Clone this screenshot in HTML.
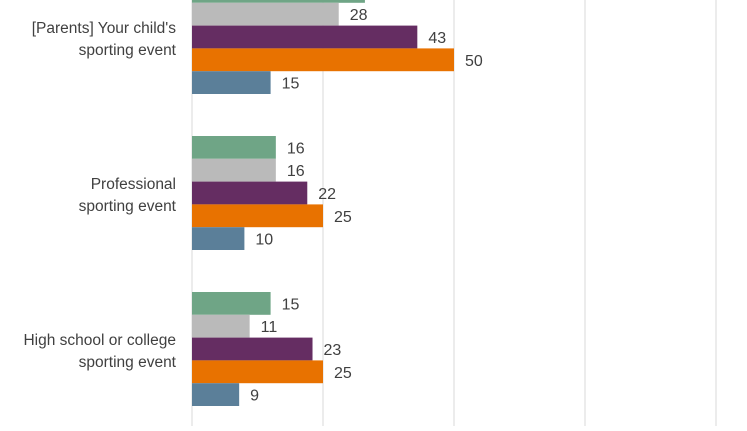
<!DOCTYPE html>
<html><head><meta charset="utf-8"><style>
body{margin:0;background:#fff;width:747px;height:426px;overflow:hidden}
svg text{font-family:"Liberation Sans",sans-serif}
</style></head><body>
<svg id="chart" width="747" height="426" xmlns="http://www.w3.org/2000/svg"></svg>
<script>
const categories = ["[Parents] Your child's|sporting event", "Professional|sporting event", "High school or college|sporting event"];
const seriesNames = ["green-series", "gray-series", "purple-series", "orange-series", "blue-series"];
const seriesColors = ["#6fa586", "#bababa", "#652d62", "#e87200", "#5b7f99"];
const greenValues = [33, 16, 15];
const grayValues = [28, 16, 11];
const purpleValues = [43, 22, 23];
const orangeValues = [50, 25, 25];
const blueValues = [15, 10, 9];
const gridTicks = [0, 25, 50, 75, 100];

const allSeries = [greenValues, grayValues, purpleValues, orangeValues, blueValues];
const svg = document.getElementById('chart');
const NS = 'http://www.w3.org/2000/svg';
const x0 = 192, pxPerUnit = 262 / 50;
const xScale = v => x0 + v * pxPerUnit;
const groupTop0 = -20, groupStep = 156, barH = 22.8;
const yBar = (g, s) => groupTop0 + g * groupStep + s * barH;

gridTicks.forEach(t => {
  const l = document.createElementNS(NS, 'line');
  
  
  l.setAttribute('x1', xScale(t)); l.setAttribute('x2', xScale(t));
  l.setAttribute('y1', 0); l.setAttribute('y2', 426);
  l.setAttribute('stroke', '#d9d9d9'); l.setAttribute('stroke-width', '1');
  svg.appendChild(l);
});

categories.forEach((cat, g) => {
  allSeries.forEach((vals, s) => {
    const y = yBar(g, s);
    const r = document.createElementNS(NS, 'rect');
    
    
    r.setAttribute('x', x0); r.setAttribute('y', y);
    r.setAttribute('width', xScale(vals[g]) - x0); r.setAttribute('height', barH);
    r.setAttribute('fill', seriesColors[s]);
    svg.appendChild(r);
    const t = document.createElementNS(NS, 'text');
    
    
    t.setAttribute('x', xScale(vals[g]) + 11); t.setAttribute('y', y + barH / 2 + 6);
    t.setAttribute('font-size', '16'); t.setAttribute('fill', '#404040');
    t.textContent = vals[g];
    svg.appendChild(t);
  });
  const mid = yBar(g, 2) + barH / 2;
  const lines = cat.split('|');
  lines.forEach((ln, i) => {
    const t = document.createElementNS(NS, 'text');
    
    
    t.setAttribute('x', 176); t.setAttribute('y', mid - 4 + i * 22);
    t.setAttribute('text-anchor', 'end');
    t.setAttribute('font-size', '15.5'); t.setAttribute('fill', '#404040');
    t.textContent = ln;
    svg.appendChild(t);
  });
});
</script>
</body></html>
